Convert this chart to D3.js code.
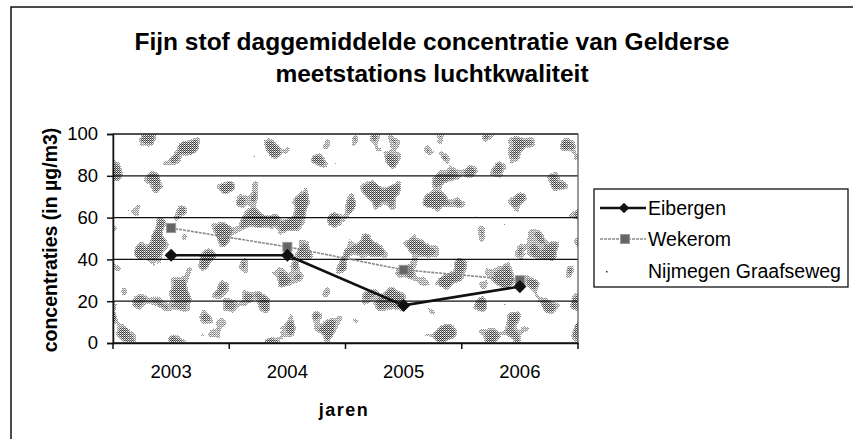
<!DOCTYPE html>
<html>
<meta charset="utf-8">
<title>Fijn stof</title>
<script src="https://d3js.org/d3.v7.min.js"></script>
<style>
  body { margin: 0; background: #fff; }
  text { font-family: "Liberation Sans", Arial, sans-serif; fill: #000; }
</style>
<body>
<script>
  var years = ["2003", "2004", "2005", "2006"];
  var eibergen = [42, 42, 18, 27];
  var wekerom = [55, 46, 35, 30];
  var nijmegen = [null, null, null, null];
  var yTicks = [0, 20, 40, 60, 80, 100];
  var seriesNames = ["Eibergen", "Wekerom", "Nijmegen Graafseweg"];

  var width = 853, height = 439;
  var pLeft = 113, pRight = 578, pTop = 134, pBottom = 343;

  var svg = d3.select("body").append("svg")
    .attr("width", width).attr("height", height);

  var defs = svg.append("defs");

  // scanned, dithered look of the plot area
  var f = defs.append("filter").attr("id", "blob")
    .attr("filterUnits", "userSpaceOnUse")
    .attr("x", pLeft).attr("y", pTop).attr("width", pRight - pLeft).attr("height", pBottom - pTop);
  f.append("feTurbulence").attr("type", "fractalNoise")
    .attr("baseFrequency", "0.042 0.038").attr("numOctaves", 2).attr("seed", 11);
  f.append("feColorMatrix").attr("type", "matrix")
    .attr("values", "1 0 0 0 0  1 0 0 0 0  1 0 0 0 0  0 0 0 0 1");
  var ct = f.append("feComponentTransfer");
  ["feFuncR", "feFuncG", "feFuncB"].forEach(function(n) {
    ct.append(n).attr("type", "discrete")
      .attr("tableValues", "0 0 0 0 0 0 0 0 0 0 0 0 0.3 0.8 1 1 1 1 1 1");
  });

  var pat = defs.append("pattern").attr("id", "dither")
    .attr("width", 2).attr("height", 2).attr("patternUnits", "userSpaceOnUse");
  pat.append("rect").attr("width", 1).attr("height", 1).attr("fill", "#333");
  pat.append("rect").attr("x", 1).attr("y", 1).attr("width", 1).attr("height", 1).attr("fill", "#555");
  pat.append("rect").attr("x", 1).attr("y", 0).attr("width", 1).attr("height", 1).attr("fill", "#aaa");

  defs.append("mask").attr("id", "blobmask")
    .attr("maskUnits", "userSpaceOnUse")
    .attr("x", pLeft).attr("y", pTop).attr("width", pRight - pLeft).attr("height", pBottom - pTop)
    .append("rect").attr("x", pLeft).attr("y", pTop)
    .attr("width", pRight - pLeft).attr("height", pBottom - pTop)
    .attr("fill", "#fff")
    .attr("filter", "url(#blob)");

  // outer chart border (only left and top fall inside the picture)
  svg.append("rect").attr("x", 11).attr("y", 7)
    .attr("width", 900).attr("height", 500)
    .attr("fill", "none").attr("stroke", "#111").attr("stroke-width", 1.5);

  var xScale = d3.scaleBand().domain(years).range([pLeft, pRight]);
  var yScale = d3.scaleLinear().domain([0, 100]).range([pBottom, pTop]);

  svg.append("rect").attr("x", pLeft).attr("y", pTop)
    .attr("width", pRight - pLeft).attr("height", pBottom - pTop)
    .attr("fill", "#fff");
  svg.append("rect").attr("x", pLeft).attr("y", pTop)
    .attr("width", pRight - pLeft).attr("height", pBottom - pTop)
    .attr("fill", "url(#dither)").attr("mask", "url(#blobmask)");

  // gridlines
  svg.append("g").selectAll("line").data(yTicks).enter().append("line")
    .attr("x1", pLeft).attr("x2", pRight)
    .attr("y1", function(d) { return yScale(d); })
    .attr("y2", function(d) { return yScale(d); })
    .attr("stroke", "#111").attr("stroke-width", 1.3);

  svg.append("rect").attr("x", pLeft).attr("y", pTop)
    .attr("width", pRight - pLeft).attr("height", pBottom - pTop)
    .attr("fill", "none").attr("stroke", "#555").attr("stroke-width", 1.2);

  // axes
  var axisY = d3.axisLeft(yScale).tickValues(yTicks).tickSize(6).tickPadding(9);
  var gy = svg.append("g").attr("transform", "translate(" + pLeft + ",0)").call(axisY);
  gy.select(".domain").attr("stroke", "#111").attr("stroke-width", 1.5);
  gy.selectAll(".tick line").attr("stroke", "#111").attr("stroke-width", 1.5);
  gy.selectAll("text").style("font-size", "18.5px").attr("font-family", null);

  var axisX = d3.axisBottom(xScale).tickSize(0).tickPadding(22);
  var gx = svg.append("g").attr("transform", "translate(0," + pBottom + ")").call(axisX);
  gx.select(".domain").attr("stroke", "#111").attr("stroke-width", 1.5);
  gx.selectAll("text").style("font-size", "18.5px").attr("font-family", null);

  var edges = years.map(function(d) { return xScale(d); }).concat([pRight]);
  svg.append("g").selectAll("line").data(edges).enter().append("line")
    .attr("x1", function(d) { return d; }).attr("x2", function(d) { return d; })
    .attr("y1", pBottom).attr("y2", pBottom + 6)
    .attr("stroke", "#111").attr("stroke-width", 1.5);

  // lines
  var cx = function(d, i) { return xScale(years[i]) + xScale.bandwidth() / 2; };
  var line = d3.line()
    .defined(function(d) { return d != null; })
    .x(cx).y(function(d) { return yScale(d); });

  svg.append("path").datum(wekerom).attr("d", line)
    .attr("fill", "none").attr("stroke", "#8a8a8a").attr("stroke-width", 1.6)
    .attr("stroke-dasharray", "3 1");
  svg.append("g").selectAll("rect").data(wekerom).enter().append("rect")
    .attr("x", function(d, i) { return cx(d, i) - 4.5; })
    .attr("y", function(d) { return yScale(d) - 4.5; })
    .attr("width", 9).attr("height", 9)
    .attr("fill", "#666").attr("stroke", "#999").attr("stroke-width", 1);

  svg.append("path").datum(eibergen).attr("d", line)
    .attr("fill", "none").attr("stroke", "#111").attr("stroke-width", 2.6);
  var diamond = d3.symbol().type(d3.symbolDiamond2).size(110);
  svg.append("g").selectAll("path").data(eibergen).enter().append("path")
    .attr("d", diamond)
    .attr("transform", function(d, i) { return "translate(" + cx(d, i) + "," + yScale(d) + ")"; })
    .attr("fill", "#111");

  // titles
  svg.append("text").attr("x", 432).attr("y", 50)
    .attr("text-anchor", "middle").style("font-size", "24.5px").style("font-weight", "bold")
    .text("Fijn stof daggemiddelde concentratie van Gelderse");
  svg.append("text").attr("x", 432).attr("y", 82)
    .attr("text-anchor", "middle").style("font-size", "24.5px").style("font-weight", "bold")
    .text("meetstations luchtkwaliteit");

  svg.append("text").attr("transform", "translate(57,240) rotate(-90)")
    .attr("text-anchor", "middle").style("font-size", "19.5px").style("font-weight", "bold")
    .text("concentraties (in µg/m3)");

  svg.append("text").attr("x", 344).attr("y", 416)
    .attr("text-anchor", "middle").style("font-size", "18px").style("font-weight", "bold")
    .style("letter-spacing", "1.5px")
    .text("jaren");

  // legend
  var lg = svg.append("g");
  lg.append("rect").attr("x", 594).attr("y", 189).attr("width", 254).attr("height", 98)
    .attr("fill", "#fff").attr("stroke", "#111").attr("stroke-width", 1.3);
  var rowY = [208, 239, 271];
  seriesNames.forEach(function(name, i) {
    var y = rowY[i];
    if (i === 0) {
      lg.append("line").attr("x1", 600).attr("x2", 646).attr("y1", y).attr("y2", y)
        .attr("stroke", "#111").attr("stroke-width", 2.4);
      lg.append("path").attr("d", d3.symbol().type(d3.symbolDiamond2).size(70))
        .attr("transform", "translate(624," + y + ")").attr("fill", "#111");
    } else if (i === 1) {
      lg.append("line").attr("x1", 600).attr("x2", 646).attr("y1", y).attr("y2", y)
        .attr("stroke", "#8a8a8a").attr("stroke-width", 1.6).attr("stroke-dasharray", "3 1");
      lg.append("rect").attr("x", 620.5).attr("y", y - 4.5).attr("width", 9).attr("height", 9)
        .attr("fill", "#666").attr("stroke", "#999");
    } else {
      lg.append("rect").attr("x", 606).attr("y", y).attr("width", 1.5).attr("height", 1.5)
        .attr("fill", "#333");
    }
    lg.append("text").attr("x", 648).attr("y", y + 7)
      .style("font-size", "19.5px").text(name);
  });
</script>
</body>
</html>
